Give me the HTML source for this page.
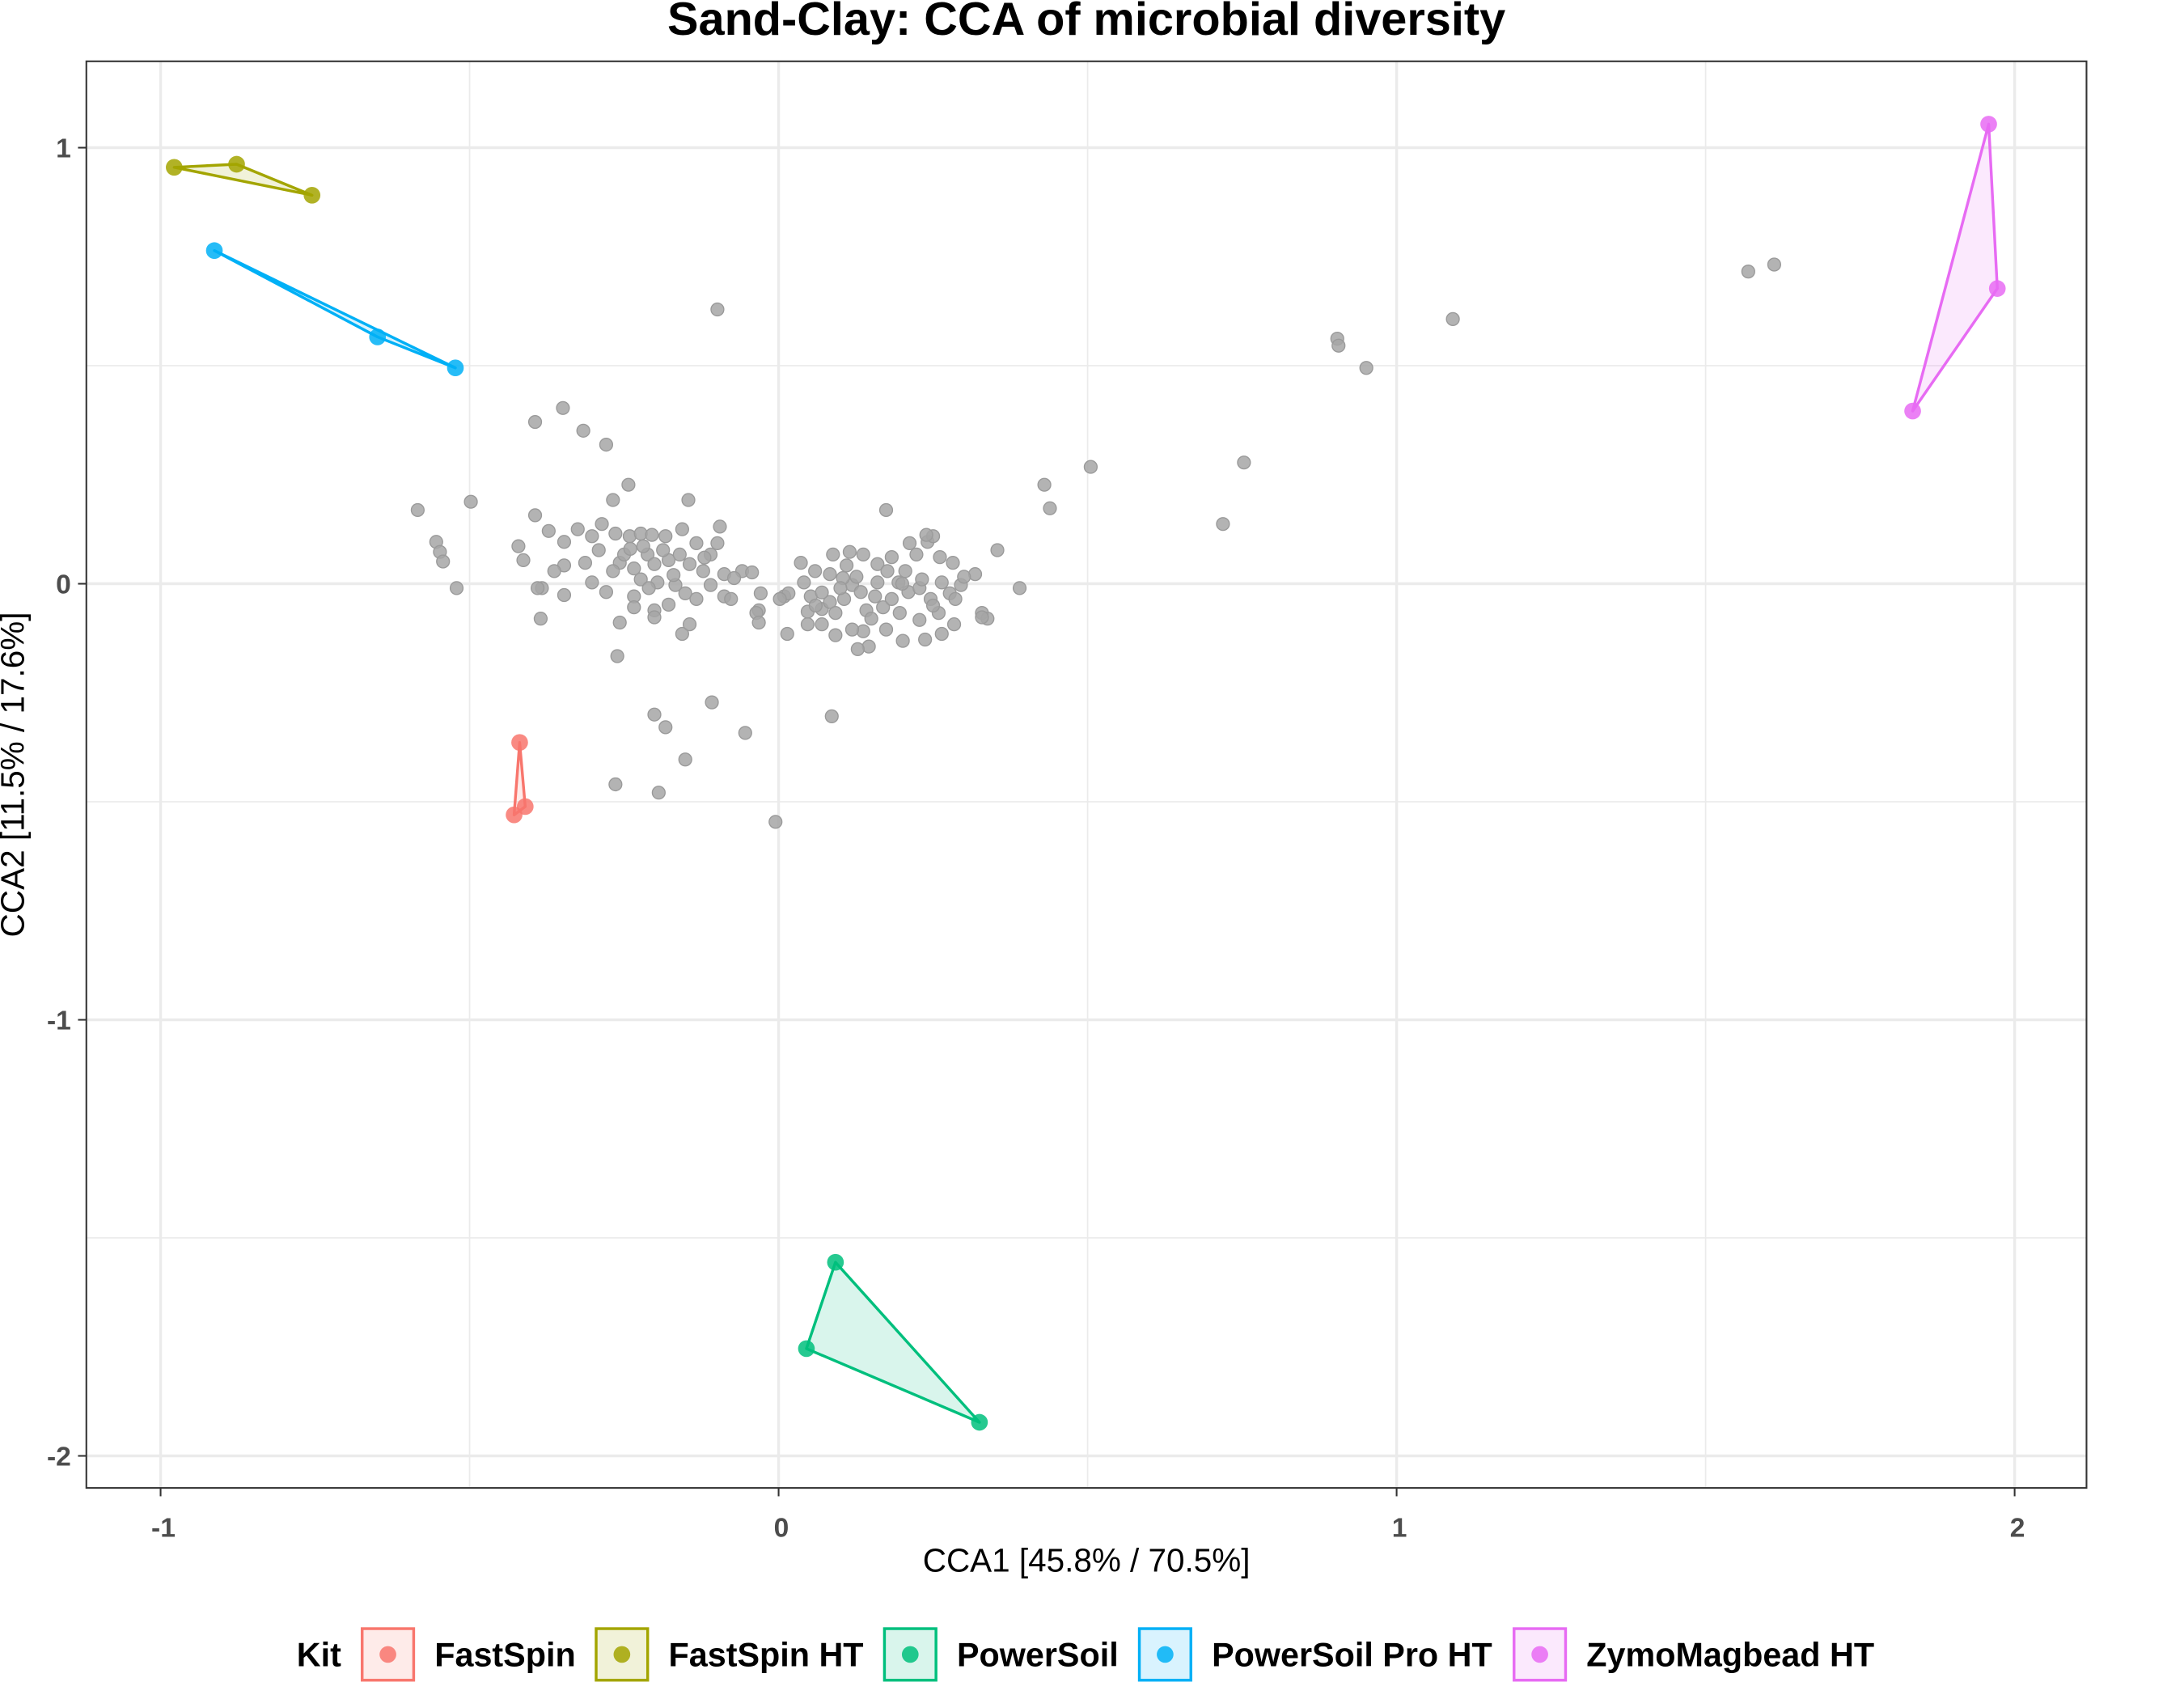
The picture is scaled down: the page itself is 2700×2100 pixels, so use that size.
<!DOCTYPE html>
<html><head><meta charset="utf-8"><style>html,body{margin:0;padding:0;background:#fff}svg{display:block}text{font-family:"Liberation Sans",Arial,sans-serif}</style></head>
<body>
<svg id="chart" width="2700" height="2100" viewBox="0 0 1568 1219.5" preserveAspectRatio="none" xmlns="http://www.w3.org/2000/svg">
<rect x="0" y="0" width="1568" height="1220" fill="#fff"/>
<text x="780" y="25" text-anchor="middle" font-size="33.5" font-weight="bold" fill="#000">Sand-Clay: CCA of microbial diversity</text>
<g id="grid"></g>
<g id="hulls"></g>
<g id="bg-points"></g>
<g id="kit-points"></g>
<rect x="62" y="44" width="1436" height="1024" fill="none" stroke="#333" stroke-width="1.2"/>
<g id="axes"></g>
<text x="780" y="1128" text-anchor="middle" font-size="23.5" fill="#000">CCA1 [45.8% / 70.5%]</text>
<text transform="translate(17,556) rotate(-90)" text-anchor="middle" font-size="23.5" fill="#000">CCA2 [11.5% / 17.6%]</text>
<g id="legend"></g>
</svg>
<script>
const xTicks = [-1, 0, 1, 2];
const yTicks = [1, 0, -1, -2];
const xMinor = [-0.5, 0.5, 1.5];
const yMinor = [0.5, -0.5, -1.5];
const kits = ["FastSpin", "FastSpin HT", "PowerSoil", "PowerSoil Pro HT", "ZymoMagbead HT"];
const kitColors = ["#F8766D", "#A3A500", "#00BF7D", "#00B0F6", "#E76BF3"];
const fastSpin = [[-0.419,-0.364],[-0.410,-0.511],[-0.428,-0.530]];
const fastSpinHT = [[-0.978,0.955],[-0.877,0.962],[-0.755,0.891]];
const powerSoil = [[0.092,-1.556],[0.045,-1.754],[0.325,-1.923]];
const powerSoilProHT = [[-0.913,0.764],[-0.649,0.566],[-0.523,0.495]];
const zymo = [[1.958,1.054],[1.972,0.677],[1.835,0.396]];
const bgPoints = [
[-0.099,0.629],[1.091,0.607],[0.904,0.562],[0.906,0.546],[0.951,0.495],[1.569,0.716],[1.611,0.732],
[0.505,0.268],[0.753,0.278],[0.430,0.227],[0.439,0.173],[0.719,0.137],
[-0.394,0.371],[-0.349,0.403],[-0.316,0.351],[-0.279,0.319],
[-0.584,0.169],[-0.498,0.188],[-0.554,0.096],[-0.548,0.073],[-0.543,0.051],[-0.521,-0.010],
[-0.421,0.086],[-0.413,0.054],[-0.394,0.157],[-0.383,-0.010],[-0.385,-0.080],
[-0.261,-0.166],[-0.201,-0.300],[-0.183,-0.329],[-0.151,-0.403],[-0.108,-0.272],[-0.054,-0.342],[-0.264,-0.460],[-0.194,-0.479],[-0.005,-0.546],[0.086,-0.304],
[-0.243,0.227],[-0.268,0.192],[-0.146,0.192],[-0.095,0.131],[0.174,0.169],
[-0.372,0.121],[-0.347,0.096],[-0.325,0.125],[-0.302,0.109],[-0.286,0.137],[-0.264,0.115],[-0.241,0.109],[-0.223,0.115],[-0.205,0.112],[-0.183,0.109],[-0.156,0.125],[-0.133,0.093],[-0.099,0.093],
[-0.291,0.077],[-0.313,0.048],[-0.347,0.042],[-0.257,0.048],[-0.234,0.035],[-0.212,0.067],[-0.201,0.045],[-0.178,0.054],[-0.144,0.045],[-0.122,0.029],[-0.088,0.022],[-0.059,0.029],[-0.363,0.029],[-0.268,0.029],[-0.223,0.010],[-0.196,0.003],[-0.167,-0.003],[-0.151,-0.022],[-0.133,-0.035],[-0.110,-0.003],[-0.088,-0.029],[-0.077,-0.035],[-0.390,-0.010],[-0.347,-0.026],[-0.302,0.003],[-0.279,-0.019],[-0.234,-0.029],[-0.201,-0.061],[-0.178,-0.048],[-0.156,-0.115],[-0.257,-0.089],[-0.201,-0.077],[-0.144,-0.093],[-0.234,-0.054],[-0.250,0.067],[-0.219,0.086],[-0.187,0.077],[-0.160,0.067],[-0.110,0.067],[-0.072,0.013],[-0.043,0.026],[-0.029,-0.022],[-0.032,-0.061],[0.009,-0.029],[0.016,-0.022],
[0.041,0.003],[0.052,-0.029],[0.070,-0.058],[0.083,-0.042],[0.092,-0.067],[0.106,-0.035],[0.119,-0.003],[0.133,-0.019],[0.142,-0.061],[0.156,-0.029],[0.169,-0.054],[0.183,-0.035],[0.196,-0.067],[0.210,-0.019],[0.228,-0.010],[0.246,-0.035],[0.259,-0.067],[0.277,-0.022],[0.295,-0.003],[0.318,0.022],[0.354,0.077],[0.329,-0.067],[0.284,-0.093],[0.264,-0.115],[0.237,-0.128],[0.201,-0.131],[0.174,-0.105],[0.146,-0.144],[0.128,-0.150],[0.092,-0.118],[0.070,-0.093],[0.047,-0.093],[0.036,0.048],[0.059,0.029],[0.088,0.067],[0.115,0.073],[0.137,0.067],[0.160,0.045],[0.183,0.061],[0.205,0.029],[0.223,0.067],[0.241,0.096],[0.250,0.109],[0.261,0.061],[0.282,0.048],[0.300,0.016],[0.264,0.003],[0.232,0.010],[0.194,0.003],[0.160,0.003],[0.126,0.016],[0.104,0.013],[0.083,0.022],[0.137,-0.109],[0.119,-0.105],[0.228,-0.083],[0.286,-0.035],[0.390,-0.010],[0.338,-0.080],[0.329,-0.077],[0.002,-0.035],[0.014,-0.115],[-0.036,-0.067],[-0.032,-0.089],[0.047,-0.064],[0.110,0.042],[0.176,0.029],[0.212,0.093],[0.239,0.112],
[0.070,-0.020],[0.100,-0.010],[0.150,-0.080],[0.200,0.000],[0.060,-0.050],[-0.170,0.020],[-0.210,-0.010],[-0.120,0.060],[-0.240,0.080],[0.250,-0.050]
];
const kitSeries = [fastSpin, fastSpinHT, powerSoil, powerSoilProHT, zymo];
const NS = "http://www.w3.org/2000/svg";
const X0 = 559, XU = 443.7, Y0 = 419, YU = 313;
function sx(v){ return X0 + v * XU; }
function sy(v){ return Y0 - v * YU; }
function mk(tag, attrs, parent){ const e = document.createElementNS(NS, tag); for (const k in attrs) e.setAttribute(k, attrs[k]); parent.appendChild(e); return e; }
const grid = document.getElementById("grid");
xMinor.forEach(v => { const l = mk("line",{x1:sx(v),x2:sx(v),y1:44,y2:1068,stroke:"#ebebeb","stroke-width":1},grid);

 });
yMinor.forEach(v => { const l = mk("line",{x1:62,x2:1498,y1:sy(v),y2:sy(v),stroke:"#ebebeb","stroke-width":1},grid);

 });
xTicks.forEach(v => { const l = mk("line",{x1:sx(v),x2:sx(v),y1:44,y2:1068,stroke:"#ebebeb","stroke-width":2},grid);

 });
yTicks.forEach(v => { const l = mk("line",{x1:62,x2:1498,y1:sy(v),y2:sy(v),stroke:"#ebebeb","stroke-width":2},grid);

 });
const axes = document.getElementById("axes");
xTicks.forEach(v => {
  const t = mk("line",{x1:sx(v),x2:sx(v),y1:1068,y2:1074,stroke:"#333","stroke-width":1.2},axes);
  
  
  const lb = mk("text",{x:sx(v)+2,y:1103,"text-anchor":"middle","font-size":19.5,"font-weight":"bold",fill:"#4d4d4d"},axes);
  lb.textContent = String(v);
  
  
});
yTicks.forEach(v => {
  const t = mk("line",{x1:56,x2:62,y1:sy(v),y2:sy(v),stroke:"#333","stroke-width":1.2},axes);
  
  
  const lb = mk("text",{x:51,y:sy(v)+7,"text-anchor":"end","font-size":19.5,"font-weight":"bold",fill:"#4d4d4d"},axes);
  lb.textContent = String(v);
  
  
});
const bg = document.getElementById("bg-points");
bgPoints.forEach(p => {
  const c = mk("circle",{cx:sx(p[0]),cy:sy(p[1]),r:4.6,fill:"#a6a6a6",stroke:"#9a9a9a","stroke-width":0.8,"fill-opacity":0.85},bg);
  
  
});
const hulls = document.getElementById("hulls");
const kp = document.getElementById("kit-points");
kitSeries.forEach((s, i) => {
  const pts = s.map(p => sx(p[0]) + "," + sy(p[1])).join(" ");
  const h = mk("polygon",{points:pts,fill:kitColors[i],"fill-opacity":0.15,stroke:kitColors[i],"stroke-width":2,"stroke-linejoin":"round"},hulls);
  
  
  s.forEach(p => {
    const c = mk("circle",{cx:sx(p[0]),cy:sy(p[1]),r:6,fill:kitColors[i],"fill-opacity":0.85},kp);
    
    
  });
});
const lg = document.getElementById("legend");
const kitT = mk("text",{x:213,y:1196,"font-size":24,"font-weight":"bold",fill:"#000"},lg);
kitT.textContent = "Kit";


const boxX = [259, 427, 634, 817, 1086];
kits.forEach((k, i) => {
  const g = mk("g",{},lg);
  
  
  mk("rect",{x:boxX[i]+1,y:1169,width:37,height:37,fill:kitColors[i],"fill-opacity":0.15,stroke:kitColors[i],"stroke-width":2},g);
  mk("circle",{cx:boxX[i]+19.5,cy:1187.5,r:6,fill:kitColors[i],"fill-opacity":0.85},g);
  const t = mk("text",{x:boxX[i]+53,y:1196,"font-size":24,"font-weight":"bold",fill:"#000"},g);
  t.textContent = k;
});
</script>
</body></html>
